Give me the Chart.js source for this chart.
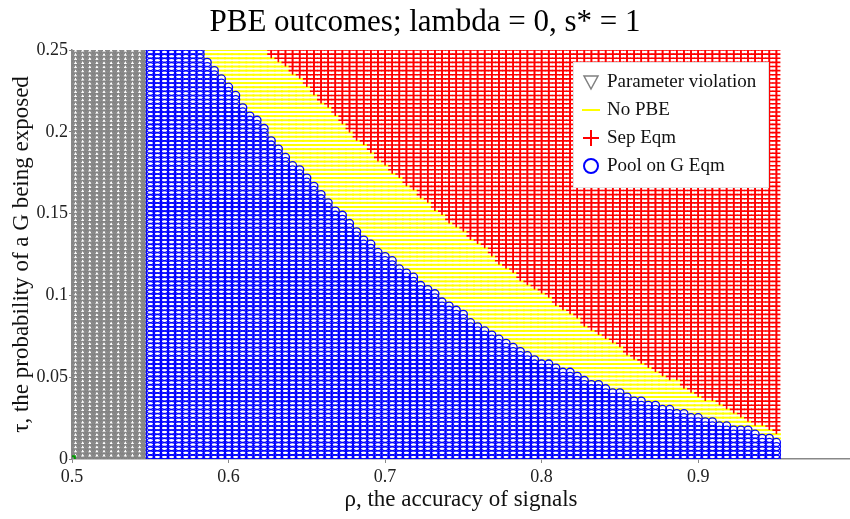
<!DOCTYPE html>
<html lang="en">
<head>
<meta charset="UTF-8">
<title>PBE outcomes</title>
<script src="https://cdn.jsdelivr.net/npm/chart.js"></script>
<style>
  html, body { margin: 0; padding: 0; background: #fff; overflow: hidden; }
  .wrap { width: 850px; height: 519px; }
  canvas { display: block; }
</style>
</head>
<body>
<div class="wrap"><canvas id="grafico"></canvas></div>
<script>
// parameter grid: 100 rho columns x 100 tau rows
const rhoMin = 0.5, rhoMax = 0.95, nRho = 100;
const tauMin = 0, tauMax = 0.25, nTau = 100;

const xTicks = [0.5, 0.6, 0.7, 0.8, 0.9];
const yTicks = [0, 0.05, 0.1, 0.15, 0.2, 0.25];

const seriesNames = ['Parameter violation', 'No PBE', 'Sep Eqm', 'Pool on G Eqm'];

// rho columns 0..10 violate the parameter restriction
const violationCols = 11;

// highest tau row that pools on G, for rho columns 11..99
const poolFirstCol = 11;
const poolTopRow = [
  99, 99, 99, 99, 99, 99, 99, 99,
  96, 94, 92, 90, 88, 85, 83, 82, 80, 77,
  75, 73, 71, 70, 68, 66, 64, 62, 60, 59,
  57, 55, 53, 52, 50, 49, 48, 46, 45, 44,
  42, 41, 40, 38, 37, 36, 35, 33, 32, 31,
  30, 29, 28, 27, 26, 25, 24, 23, 23, 22,
  21, 21, 20, 19, 18, 18, 17, 16, 16, 15,
  14, 14, 13, 13, 12, 12, 11, 11, 10, 10,
  9, 9, 8, 8, 7, 7, 7, 6, 5, 5, 4
];

// lowest tau row that separates, for rho columns 28..99 (none before)
const sepFirstCol = 28;
const sepBottomRow = [
  98, 97, 96, 94, 93, 91, 89, 87, 86, 84,
  82, 80, 78, 77, 75, 73, 72, 70, 69, 67,
  66, 64, 63, 61, 60, 58, 57, 56, 54, 53,
  52, 50, 48, 47, 46, 44, 43, 42, 41, 40,
  38, 37, 36, 35, 33, 32, 31, 30, 29, 28,
  26, 25, 24, 23, 22, 21, 20, 20, 18, 17,
  16, 15, 15, 14, 13, 12, 11, 10, 9, 9,
  8, 7
];

// odd marker sitting at the origin in the original
const originPoint = [{ x: 0.5, y: 0 }];

const violacao = [], semPBE = [], separa = [], pool = [];
for (let k = 0; k < nRho; k++) {
  const x = rhoMin + k * (rhoMax - rhoMin) / (nRho - 1);
  for (let j = 0; j < nTau; j++) {
    const y = tauMin + j * (tauMax - tauMin) / (nTau - 1);
    const p = { x: x, y: y };
    if (k < violationCols) {
      violacao.push(p);
    } else if (j <= poolTopRow[k - poolFirstCol]) {
      pool.push(p);
    } else if (k >= sepFirstCol && j >= sepBottomRow[k - sepFirstCol]) {
      separa.push(p);
    } else {
      semPBE.push(p);
    }
  }
}

const serif = 'Liberation Serif';

// MATLAB style legend box inside the axes
const legendBox = {
  id: 'legendBox',
  afterDraw(chart) {
    const ctx = chart.ctx;
    const area = chart.chartArea;
    const bx = area.right - 277, by = area.top + 12, bw = 195, bh = 125;
    ctx.save();
    ctx.fillStyle = '#ffffff';
    ctx.fillRect(bx, by, bw, bh);
    ctx.strokeStyle = '#e2e2e2';
    ctx.lineWidth = 1;
    ctx.strokeRect(bx + 0.5, by + 0.5, bw, bh);

    const sx = bx + 18, tx = bx + 34;
    const rows = [by + 20, by + 48, by + 76, by + 104];

    // triangle
    ctx.strokeStyle = '#808080';
    ctx.lineWidth = 1.5;
    ctx.beginPath();
    ctx.moveTo(sx - 7, rows[0] - 6);
    ctx.lineTo(sx + 7, rows[0] - 6);
    ctx.lineTo(sx, rows[0] + 7);
    ctx.closePath();
    ctx.stroke();

    // line
    ctx.strokeStyle = '#ffff00';
    ctx.lineWidth = 2;
    ctx.beginPath();
    ctx.moveTo(sx - 9, rows[1]);
    ctx.lineTo(sx + 9, rows[1]);
    ctx.stroke();

    // plus
    ctx.strokeStyle = '#ff0000';
    ctx.lineWidth = 2;
    ctx.beginPath();
    ctx.moveTo(sx - 8, rows[2]);
    ctx.lineTo(sx + 8, rows[2]);
    ctx.moveTo(sx, rows[2] - 8);
    ctx.lineTo(sx, rows[2] + 8);
    ctx.stroke();

    // circle
    ctx.strokeStyle = '#0000ff';
    ctx.lineWidth = 2;
    ctx.beginPath();
    ctx.arc(sx, rows[3], 7, 0, Math.PI * 2);
    ctx.stroke();

    ctx.fillStyle = '#111';
    ctx.font = '19px "' + serif + '"';
    ctx.textBaseline = 'middle';
    ctx.textAlign = 'left';
    seriesNames.forEach((n, i) => ctx.fillText(n, tx, rows[i]));
    ctx.restore();
  }
};

const config = {
  type: 'scatter',
  data: {
    datasets: [
      {
        label: seriesNames[0],
        data: violacao,
        pointStyle: 'triangle',
        rotation: 180,
        pointRadius: 4,
        borderWidth: 1,
        borderColor: '#808080',
        backgroundColor: '#8c8c8c',
        order: 4,
        clip: 0
      },
      {
        label: seriesNames[1],
        data: semPBE,
        pointStyle: 'line',
        pointRadius: 4.5,
        borderWidth: 2,
        borderColor: '#ffff00',
        backgroundColor: '#ffff00',
        order: 3,
        clip: 0
      },
      {
        label: seriesNames[2],
        data: separa,
        pointStyle: 'cross',
        pointRadius: 4,
        borderWidth: 1.6,
        borderColor: '#ff0000',
        backgroundColor: '#ff0000',
        order: 2,
        clip: 0
      },
      {
        label: seriesNames[3],
        data: pool,
        pointStyle: 'circle',
        pointRadius: 4,
        borderWidth: 1.3,
        borderColor: '#0000ff',
        backgroundColor: 'rgba(0,0,0,0)',
        order: 1,
        clip: 0
      },
      {
        label: 'origin',
        data: originPoint,
        pointStyle: 'rect',
        pointRadius: 4,
        borderWidth: 2,
        borderColor: '#009900',
        backgroundColor: 'rgba(0,0,0,0)',
        order: 0,
        clip: 0
      }
    ]
  },
  options: {
    responsive: true,
    maintainAspectRatio: false,
    animation: false,
    events: [],
    layout: { padding: 0, autoPadding: false },
    plugins: {
      legend: { display: false },
      tooltip: { enabled: false },
      title: {
        display: true,
        text: 'PBE outcomes; lambda = 0, s* = 1',
        color: '#000',
        font: { family: serif, size: 31, weight: 'normal' },
        padding: { top: 4, bottom: 8.8 }
      }
    },
    scales: {
      x: {
        type: 'linear',
        min: 0.5,
        max: 0.997,
        afterFit: s => { s.height = 60; },
        afterBuildTicks: s => { s.ticks = xTicks.map(v => ({ value: v })); },
        ticks: {
          color: '#222',
          font: { family: serif, size: 18 },
          padding: 3,
          maxRotation: 0,
          autoSkip: false,
          callback: v => String(v)
        },
        grid: { drawOnChartArea: false, tickLength: 4, color: '#888' },
        border: { color: '#888', width: 1.5 },
        title: {
          display: true,
          text: 'ρ, the accuracy of signals',
          color: '#111',
          font: { family: serif, size: 23 },
          padding: { top: 0, bottom: 5 }
        }
      },
      y: {
        type: 'linear',
        min: 0,
        max: 0.25,
        afterFit: s => { s.width = 72; },
        afterBuildTicks: s => { s.ticks = yTicks.map(v => ({ value: v })); },
        ticks: {
          color: '#222',
          font: { family: serif, size: 18 },
          padding: 1,
          autoSkip: false,
          callback: v => String(v)
        },
        grid: { drawOnChartArea: false, tickLength: 3, color: '#888' },
        border: { color: '#888', width: 1.5 },
        title: {
          display: true,
          text: 'τ, the probability of a G being exposed',
          color: '#111',
          font: { family: serif, size: 23 },
          padding: { top: 8, bottom: 0 }
        }
      }
    }
  },
  plugins: [legendBox]
};

let grafico = new Chart(document.getElementById('grafico'), config);
</script>
</body>
</html>
